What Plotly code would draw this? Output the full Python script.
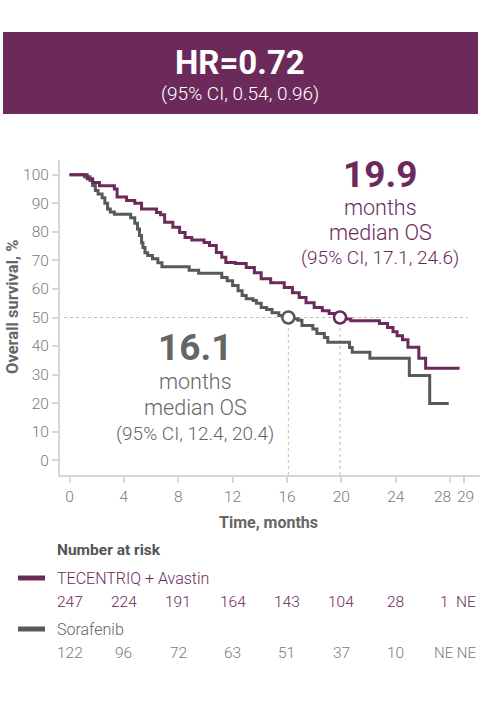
import plotly.graph_objects as go

# ---------------- data ----------------
tec_t = [0, 1.3, 1.7, 2.2, 3.3, 3.5, 4.2, 4.8, 5.3, 6.4, 6.7, 7.0, 7.6, 8.1, 8.5, 9.0,
         9.9, 10.3, 10.8, 11.2, 11.5, 12.2, 13.0, 13.6, 14.1, 14.8, 15.8, 16.4, 16.9,
         17.4, 18.0, 18.6, 19.1, 19.9, 20.7, 22.8, 23.4, 23.8, 24.1, 24.5, 24.9, 25.7,
         26.2, 28.7]
tec_s = [100, 98.6, 97.3, 96.2, 95, 92.2, 91, 90, 88, 86.8, 86, 83.4, 81.6, 79.8, 78, 77.2,
         76.3, 75.2, 72.8, 71.1, 69.3, 68.9, 67.5, 65.7, 63.6, 62.2, 60.5, 58.7, 57,
         55.2, 53.5, 52.4, 51.4, 49.5, 48.9, 47.9, 46.5, 45, 43.6, 42.2, 39.6, 35.7,
         32.2, 32.2]

sor_t = [0, 1.1, 1.5, 1.7, 1.9, 2.1, 2.4, 2.6, 2.8, 3.0, 3.3, 4.5, 4.8, 5.0, 5.15, 5.3,
         5.4, 5.55, 5.75, 6.1, 6.5, 6.8, 8.8, 9.5, 11.2, 11.6, 12.0, 12.4, 12.7, 13.0,
         13.5, 13.75, 14.1, 14.5, 14.9, 15.4, 16.1, 16.8, 17.1, 17.9, 18.2, 18.75, 19.0,
         20.6, 20.8, 22.1, 25.0, 26.5, 27.9]
sor_s = [100, 99.3, 98, 96.3, 94.5, 93.3, 92, 90, 88, 87, 86.2, 85, 83, 81, 78.7, 76.2,
         74.5, 72.7, 71.7, 70.6, 69.2, 67.8, 66.6, 65.5, 64, 62.9, 61.2, 59.4, 57.7, 56.6,
         56, 55, 53.5, 52.8, 51.7, 50.7, 49.6, 49, 47.2, 46, 44.4, 43, 41.3,
         39.5, 37.8, 35.7, 29.7, 19.9, 19.9]

median_t = [16.1, 19.9]
median_s = [50, 50]

x_ticks = [0, 4, 8, 12, 16, 20, 24, 28, 29]
x_tick_text = ["0", "4", "8", "12", "16", "20", "24", "28\u00a0\u00a0\u00a0\u00a0", "\u00a029"]
y_ticks = [0, 10, 20, 30, 40, 50, 60, 70, 80, 90, 100]

risk_times = [0, 4, 8, 12, 16, 20, 24, 28, 29]
risk_tec = ["247", "224", "191", "164", "143", "104", "28", "1", "NE"]
risk_sor = ["122", "96", "72", "63", "51", "37", "10", "NE", "NE"]

# ---------------- styles ----------------
PURPLE = "#6c2a5b"
GREY = "#595959"
TXT_GREY = "#666666"
TICK_GREY = "#7a7a7a"
AXIS_GREY = "#d6d6d6"
DOT_GREY = "#bdbdbd"
FONT = "Roboto"
LIGHT = 300

W, H = 480, 706
ML, MR, MT, MB = 60, 0, 160, 231
PW = W - ML - MR
PH = H - MT - MB


def px(xp):
    return (xp - ML) / PW


def py(yp):
    return (H - MB - yp) / PH


fig = go.Figure()

fig.add_trace(go.Scatter(x=sor_t, y=sor_s, mode="lines", line=dict(color=GREY, width=3, shape="hv"),
                         hoverinfo="skip", showlegend=False))
fig.add_trace(go.Scatter(x=tec_t, y=tec_s, mode="lines", line=dict(color=PURPLE, width=3, shape="hv"),
                         hoverinfo="skip", showlegend=False))
fig.add_trace(go.Scatter(x=median_t, y=median_s, mode="markers",
                         marker=dict(size=12, color="white", line=dict(color=[GREY, PURPLE], width=2.5)),
                         hoverinfo="skip", showlegend=False))

shapes = []
shapes.append(dict(type="line", xref="x", yref="y", x0=-0.4, x1=29.3, y0=50, y1=50,
                   line=dict(color=DOT_GREY, width=1, dash="3px,3px"), layer="below"))
for t in median_t:
    shapes.append(dict(type="line", xref="x", yref="paper", x0=t, x1=t, y0=0, y1=py(317),
                       line=dict(color=DOT_GREY, width=1, dash="3px,3px"), layer="below"))
shapes.append(dict(type="rect", xref="paper", yref="paper", x0=px(3), x1=px(478), y0=py(114), y1=py(32),
                   fillcolor=PURPLE, line=dict(width=0), layer="below"))
shapes.append(dict(type="line", xref="paper", yref="paper", x0=px(18), x1=px(45), y0=py(578), y1=py(578),
                   line=dict(color=PURPLE, width=5)))
shapes.append(dict(type="line", xref="paper", yref="paper", x0=px(18), x1=px(45), y0=py(629), y1=py(629),
                   line=dict(color=GREY, width=5)))

ann = []


def add_text(text, xp, yp, size, color, bold=False, xanchor="center", angle=0):
    ann.append(dict(text=("<b>%s</b>" % text) if bold else text, xref="paper", yref="paper",
                    x=px(xp), y=py(yp), xanchor=xanchor, yanchor="middle", showarrow=False,
                    textangle=angle,
                    font=dict(family=FONT, size=size, color=color, weight=700 if bold else LIGHT)))


# header
add_text("HR=0.72", 240, 62, 33, "white", bold=True)
add_text("(95% CI, 0.54, 0.96)", 240, 93, 19, "white")

# purple median
add_text("19.9", 380, 174, 37, PURPLE, bold=True)
add_text("months", 380, 207, 21.5, PURPLE)
add_text("median OS", 380, 232, 21.5, PURPLE)
add_text("(95% CI, 17.1, 24.6)", 380, 257, 19, PURPLE)

# grey median
add_text("16.1", 195, 347, 37, TXT_GREY, bold=True)
add_text("months", 195, 381, 21.5, TXT_GREY)
add_text("median OS", 195, 407, 21.5, TXT_GREY)
add_text("(95% CI, 12.4, 20.4)", 195, 433, 19, TXT_GREY)

# axis titles
add_text("Overall survival, %", 12, 307, 16.5, TXT_GREY, bold=True, angle=-90)
add_text("Time, months", 268, 522, 16, TXT_GREY, bold=True)

# number at risk
add_text("Number at risk", 55, 550, 15.5, "#555555", bold=True, xanchor="left")
add_text("TECENTRIQ + Avastin", 55, 578, 16, PURPLE, xanchor="left")
add_text("Sorafenib", 55, 629, 16, TXT_GREY, xanchor="left")

# TECENTRIQ row: all but last centred on ticks, last right-aligned at the edge
for i, (t, v) in enumerate(zip(risk_times, risk_tec)):
    if i == len(risk_times) - 1:
        ann.append(dict(text=v, xref="paper", yref="paper", x=px(478), y=py(602), xanchor="right",
                        yanchor="middle", showarrow=False,
                        font=dict(family=FONT, size=15.5, color=PURPLE, weight=LIGHT)))
    else:
        ann.append(dict(text=v, xref="x", yref="paper", x=t, y=py(602),
                        xshift=-6 if i == len(risk_times) - 2 else 0, xanchor="center",
                        yanchor="middle", showarrow=False,
                        font=dict(family=FONT, size=15.5, color=PURPLE, weight=LIGHT)))

# Sorafenib row: last two values share the cramped right edge
for i, (t, v) in enumerate(zip(risk_times[:-2], risk_sor[:-2])):
    ann.append(dict(text=v, xref="x", yref="paper", x=t, y=py(653), xanchor="center",
                    yanchor="middle", showarrow=False,
                    font=dict(family=FONT, size=15.5, color=TICK_GREY, weight=LIGHT)))
ann.append(dict(text=risk_sor[-2] + " " + risk_sor[-1], xref="paper", yref="paper", x=px(478), y=py(653),
                xanchor="right", yanchor="middle", showarrow=False,
                font=dict(family=FONT, size=15, color=TICK_GREY, weight=LIGHT)))

fig.update_layout(
    width=W, height=H,
    margin=dict(l=ML, r=MR, t=MT, b=MB, pad=0),
    paper_bgcolor="white", plot_bgcolor="white",
    font=dict(family=FONT, color=TICK_GREY),
    shapes=shapes, annotations=ann,
    xaxis=dict(range=[-0.7, 30.2], tickvals=x_ticks, ticktext=x_tick_text, tickangle=0,
               showgrid=False, zeroline=False, showline=True, linecolor=AXIS_GREY, linewidth=2,
               ticks="outside", ticklen=6, tickwidth=1.5, tickcolor=AXIS_GREY,
               tickfont=dict(family=FONT, size=15.5, color=TICK_GREY, weight=LIGHT), fixedrange=True),
    yaxis=dict(range=[-5.2, 105.2], tickvals=y_ticks, showgrid=False,
               zeroline=False, showline=True, linecolor=AXIS_GREY, linewidth=2,
               ticks="outside", ticklen=6, tickwidth=1.5, tickcolor=AXIS_GREY,
               tickfont=dict(family=FONT, size=15.5, color=TICK_GREY, weight=LIGHT), fixedrange=True),
)

fig.write_html("out.html", config={"displayModeBar": False})
